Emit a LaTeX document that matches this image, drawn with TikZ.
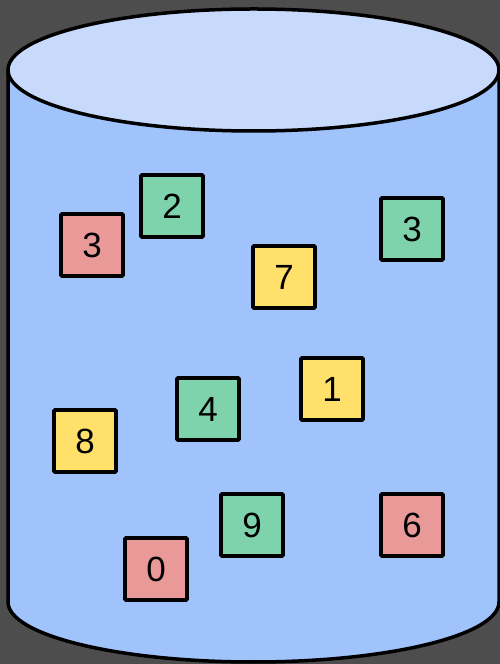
\documentclass[tikz,border=0pt]{standalone}
\usepackage{fontspec}
\setmainfont{Liberation Sans}
\definecolor{bgGray}{HTML}{4D4D4D}
\definecolor{tankBlue}{HTML}{A0C3FC}
\definecolor{lidBlue}{HTML}{C8DAFC}
\definecolor{tileRed}{HTML}{EA9999}
\definecolor{tileGreen}{HTML}{7ED3AC}
\definecolor{tileYellow}{HTML}{FFE06A}
\tikzset{
    tile/.style={draw, line width=3.8pt, rounded corners=1pt, minimum size=62pt,
        inner sep=0pt, font=\fontsize{35}{40}\selectfont},
}
\begin{document}
\begin{tikzpicture}[x=1pt, y=1pt]
    % Background
    \fill[bgGray] (0,0) rectangle (500,664);
    \useasboundingbox (0,0) rectangle (500,664);

    % Tank body
    \begin{scope}[line width=3.5pt]
        \coordinate (TL) at (8,594);
        \coordinate (BL) at (8,62);
        \coordinate (TR) at (499,594);
        \filldraw[fill=tankBlue] (TL) -- (BL)
            arc[start angle=180, end angle=360, x radius=245.5, y radius=60]
            -- (TR);
        % Lid
        \filldraw[fill=lidBlue] (253.5,594) ellipse [x radius=245.5, y radius=61];
    \end{scope}

    % Tiles
    \node[tile, fill=tileRed]    (r3) at (92,419) {3};
    \node[tile, fill=tileGreen]  (g2) at (172,458) {2};
    \node[tile, fill=tileYellow] (y7) at (284,387) {7};
    \node[tile, fill=tileGreen]  (g3) at (412,435) {3};
    \node[tile, fill=tileYellow] (y1) at (332,275) {1};
    \node[tile, fill=tileGreen]  (g4) at (208,255) {4};
    \node[tile, fill=tileYellow] (y8) at (85,223) {8};
    \node[tile, fill=tileGreen]  (g9) at (252,139) {9};
    \node[tile, fill=tileRed]    (r6) at (412,139) {6};
    \node[tile, fill=tileRed]    (r0) at (156,95) {0};
\end{tikzpicture}
\end{document}
